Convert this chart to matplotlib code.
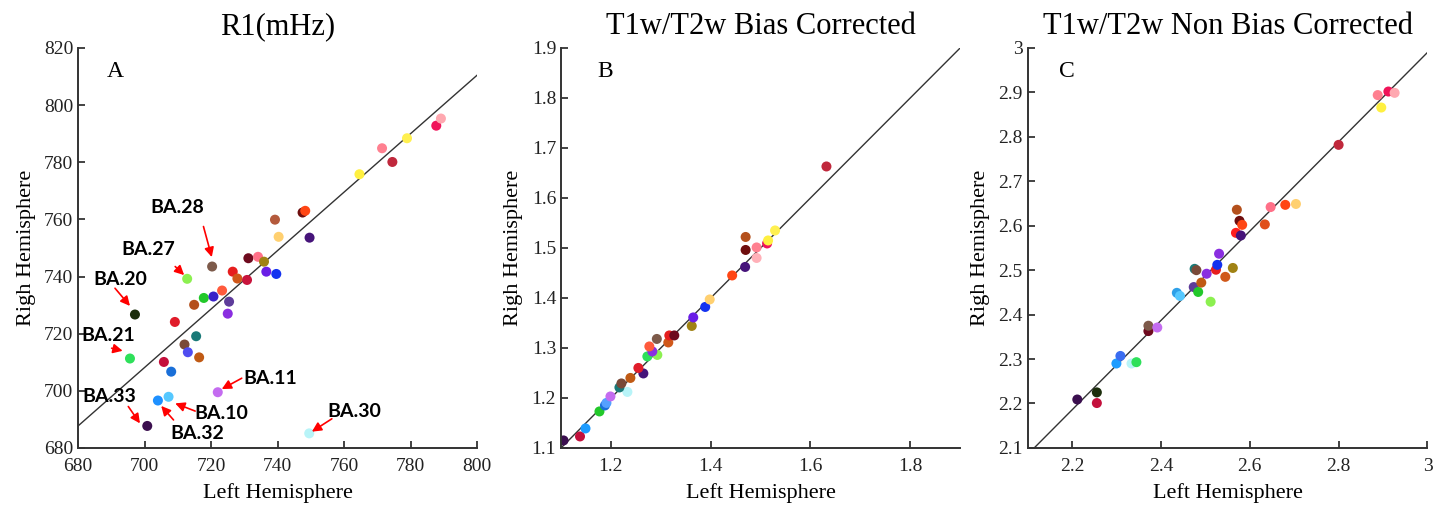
import numpy as np
import matplotlib
matplotlib.use("Agg")
from matplotlib import pyplot as plt

plt.rcParams['font.family'] = ['Liberation Serif', 'DejaVu Serif']

# ---- panel A : R1 (mHz) ----
a_left = [700.8, 704.0, 707.2, 722.0, 749.5, 695.6, 697.1, 712.8, 720.3, 705.8,
          708.0, 709.1, 712.0, 713.0, 714.9, 715.5, 716.4, 717.8, 720.7, 723.3,
          725.4, 725.0, 726.5, 727.9, 730.8, 731.2, 734.1, 735.9, 736.6, 739.6,
          739.2, 740.3, 747.5, 748.3, 749.6, 764.6, 771.4, 774.5, 778.9, 787.7, 789.1]
a_right = [687.7, 696.6, 697.9, 699.5, 685.1, 711.3, 726.7, 739.2, 743.5, 710.1,
           706.7, 724.1, 716.2, 713.5, 730.1, 719.1, 711.7, 732.5, 733.0, 735.1,
           731.2, 727.0, 741.7, 739.3, 738.8, 746.4, 746.9, 745.2, 741.7, 740.9,
           759.9, 753.9, 762.4, 763.0, 753.6, 775.8, 784.9, 780.1, 788.4, 792.8, 795.3]
a_colors = ['#3b0f4f', '#1e90ff', '#55c8ff', '#c46cf0', '#b8f4f8', '#2ee05a', '#1c2e0c',
            '#8cf050', '#7d5a4a', '#c4103c', '#1a6fd8', '#e01c2a', '#7a4a38', '#4f4cf0',
            '#b4501c', '#1a7a78', '#c05a14', '#22c82a', '#3a22c8', '#ff5a3c', '#5e3c9a',
            '#8a2ee0', '#e61e1e', '#d0581a', '#c8143c', '#6e0a1e', '#ff7088', '#a08214',
            '#6a1ee6', '#1432f0', '#b45a3c', '#ffd070', '#6e0e0e', '#ff4614', '#46147a',
            '#fff040', '#ff8090', '#c0283c', '#fff050', '#f0145a', '#ffa8b0']
a_fit = ([680, 800], [687.7, 810.5])

# labelled areas: name, text position, arrow start, arrow tip
ba_names = ['BA.28', 'BA.27', 'BA.20', 'BA.21', 'BA.33', 'BA.32', 'BA.10', 'BA.11', 'BA.30']
ba_text = [(709.8, 764.3), (701.2, 749.6), (692.8, 739.0), (689.0, 719.2), (689.3, 697.9),
           (715.9, 684.9), (723.2, 691.9), (737.9, 704.4), (763.2, 692.7)]
ba_from = [(717.7, 757.5), (709.2, 743.5), (691.1, 735.9), (690.1, 714.9), (695.1, 694.5),
           (708.7, 689.8), (715.2, 692.9), (729.2, 704.4), (756.3, 690.2)]
ba_tip = [(720.2, 746.8), (711.9, 740.5), (695.6, 729.7), (693.4, 714.0), (698.6, 688.6),
          (705.0, 694.7), (709.2, 695.6), (723.2, 700.6), (750.3, 685.7)]

# ---- panel B : T1w/T2w bias corrected ----
b_left = [1.105, 1.138, 1.149, 1.177, 1.188, 1.191, 1.199, 1.233, 1.217, 1.221,
          1.239, 1.265, 1.255, 1.273, 1.293, 1.283, 1.277, 1.292, 1.315, 1.317,
          1.327, 1.362, 1.365, 1.389, 1.398, 1.443, 1.469, 1.470, 1.470, 1.492,
          1.492, 1.513, 1.515, 1.529, 1.632]
b_right = [1.115, 1.123, 1.139, 1.173, 1.185, 1.190, 1.203, 1.212, 1.221, 1.229,
           1.240, 1.249, 1.260, 1.283, 1.286, 1.293, 1.303, 1.318, 1.311, 1.325,
           1.325, 1.344, 1.361, 1.382, 1.397, 1.445, 1.462, 1.522, 1.496, 1.480,
           1.501, 1.509, 1.515, 1.535, 1.663]
b_colors = ['#3b0f4f', '#c4103c', '#1e9cff', '#22c82a', '#1a6fd8', '#55a0ff', '#c46cf0',
            '#b8f4f8', '#1a7a78', '#7a4a38', '#c05a14', '#46147a', '#e01c2a', '#2ee05a',
            '#8cf050', '#8a2ee0', '#ff5a3c', '#7d5a4a', '#d0581a', '#e61e1e', '#6e0a1e',
            '#a08214', '#6a1ee6', '#1432f0', '#ffd070', '#ff4614', '#46147a', '#b4501c',
            '#6e0e0e', '#ffb0b8', '#ff8090', '#f0145a', '#fff040', '#fff050', '#c0283c']
b_fit = ([1.1, 1.9], [1.1, 1.9])

# ---- panel C : T1w/T2w non bias corrected ----
c_left = [2.212, 2.256, 2.256, 2.300, 2.309, 2.334, 2.345, 2.372, 2.372, 2.392,
          2.436, 2.443, 2.474, 2.476, 2.480, 2.484, 2.491, 2.503, 2.512, 2.524,
          2.527, 2.531, 2.545, 2.562, 2.569, 2.571, 2.577, 2.583, 2.580, 2.634,
          2.647, 2.680, 2.704, 2.800, 2.888, 2.912, 2.926, 2.896]
c_right = [2.209, 2.225, 2.201, 2.290, 2.307, 2.290, 2.293, 2.363, 2.375, 2.371,
           2.449, 2.442, 2.462, 2.503, 2.500, 2.451, 2.472, 2.492, 2.429, 2.501,
           2.512, 2.537, 2.485, 2.505, 2.584, 2.636, 2.611, 2.602, 2.578, 2.603,
           2.642, 2.647, 2.649, 2.782, 2.894, 2.902, 2.899, 2.866]
c_colors = ['#3b0f4f', '#1c2e0c', '#c4103c', '#1e9cff', '#3a6cf0', '#b8f4f8', '#2ee05a',
            '#6e0a1e', '#7d5a4a', '#c46cf0', '#2ea0e8', '#55c8ff', '#5e3c9a', '#1a7a78',
            '#7a4a38', '#22c82a', '#c05a14', '#8a2ee0', '#8cf050', '#e61e1e', '#1432f0',
            '#8a2ee0', '#d0581a', '#a08214', '#ff1e1e', '#b4501c', '#6e0e0e', '#ff4614',
            '#46147a', '#e0501a', '#ff7088', '#ff4614', '#ffd070', '#c0283c', '#ff8090',
            '#f0145a', '#ffa8b0', '#fff040']
c_fit = ([2.115, 3.0], [2.1, 2.99])

titles = ['R1(mHz)', 'T1w/T2w Bias Corrected', 'T1w/T2w Non Bias Corrected']
letters = ['A', 'B', 'C']

fig = plt.figure(figsize=(14.46, 5.05), dpi=100)
boxes = [[0.054, 0.113, 0.276, 0.792],
         [0.388, 0.113, 0.276, 0.792],
         [0.7106, 0.113, 0.2766, 0.792]]
panels = [(a_left, a_right, a_colors, a_fit), (b_left, b_right, b_colors, b_fit),
          (c_left, c_right, c_colors, c_fit)]
letter_x = [0.093, 0.11, 0.099]

axes = []
for i, (xs, ys, cols, fit) in enumerate(panels):
    ax = fig.add_axes(boxes[i])
    ax.plot(fit[0], fit[1], color='#333333', lw=1.0, zorder=1)
    ax.scatter(xs, ys, s=52, c=cols, edgecolors='none', zorder=2)
    ax.set_title(titles[i], fontsize=22, pad=10)
    ax.set_xlabel('Left Hemisphere', fontsize=16, labelpad=6)
    ax.set_ylabel('Righ Hemisphere', fontsize=16, labelpad=6)
    ax.text(letter_x[i], 0.94, letters[i], transform=ax.transAxes, fontsize=17,
            ha='center', va='center')
    for s in ['top', 'right']:
        ax.spines[s].set_visible(False)
    for s in ['left', 'bottom']:
        ax.spines[s].set_linewidth(1.4)
        ax.spines[s].set_color('#333333')
    ax.tick_params(direction='in', length=5, width=1.2, labelsize=14, colors='#222222')
    ax.tick_params(axis='x', pad=7)
    axes.append(ax)

ax = axes[0]
ax.set_xlim(680, 800)
ax.set_ylim(680, 820)
ax.set_xticks(np.arange(680, 801, 20))
ax.set_yticks(np.arange(680, 821, 20))
for name, t, f, tip in zip(ba_names, ba_text, ba_from, ba_tip):
    ax.text(t[0], t[1], name, family=['Lato', 'DejaVu Sans'], fontweight='bold',
            fontsize=14, ha='center', va='center')
    ax.annotate('', xy=tip, xytext=f,
                arrowprops=dict(arrowstyle='-|>', color='red', lw=1.2, mutation_scale=14,
                                shrinkA=0, shrinkB=0))

ax = axes[1]
ax.set_xlim(1.1, 1.9)
ax.set_ylim(1.1, 1.9)
ax.set_xticks([1.2, 1.4, 1.6, 1.8])
ax.set_yticks(np.round(np.arange(1.1, 1.91, 0.1), 1))

ax = axes[2]
ax.set_xlim(2.1, 3.0)
ax.set_ylim(2.1, 3.0)
ax.set_xticks(np.round(np.arange(2.2, 3.01, 0.2), 1))
ax.set_yticks(np.round(np.arange(2.1, 3.01, 0.1), 1))

for ax in axes:
    ax.xaxis.set_major_formatter(matplotlib.ticker.FormatStrFormatter('%g'))
    ax.yaxis.set_major_formatter(matplotlib.ticker.FormatStrFormatter('%g'))

fig.savefig('out.png', dpi=100)
